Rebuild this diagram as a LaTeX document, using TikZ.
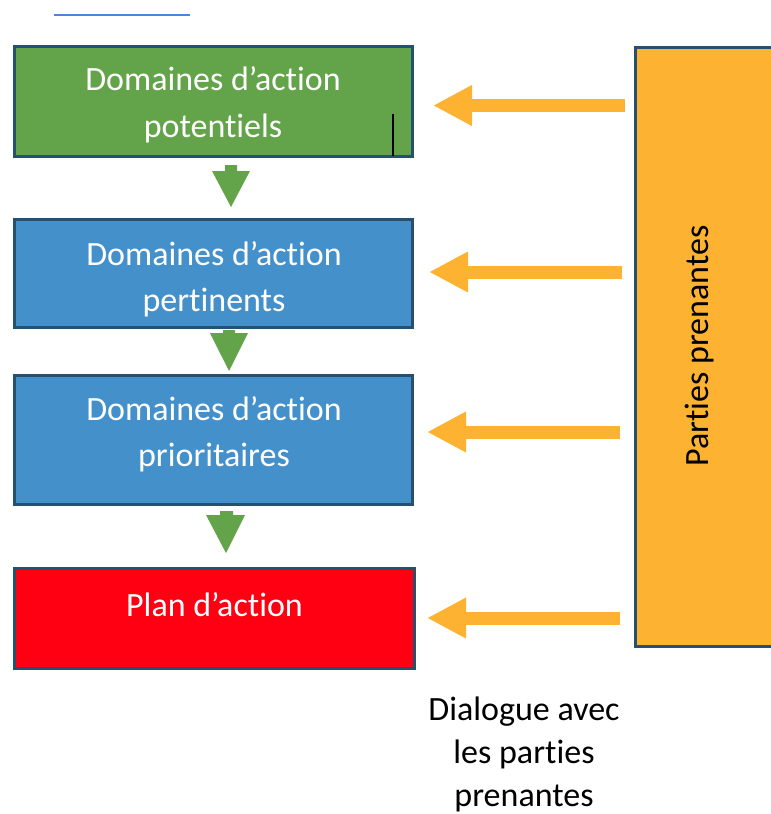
\documentclass[tikz,border=0pt]{standalone}
\usepackage{fontspec}
\setmainfont{Carlito}[Ligatures={NoCommon}]
\usetikzlibrary{arrows.meta}
\definecolor{boxgreen}{HTML}{63A34A}
\definecolor{boxblue}{HTML}{4490CB}
\definecolor{boxred}{HTML}{FF0013}
\definecolor{navy}{HTML}{25506F}
\definecolor{orng}{HTML}{FDB331}
\definecolor{linkblue}{HTML}{4A86E0}
\tikzset{
  stagebox/.style={draw=navy, line width=3pt, rectangle, inner sep=0pt},
  wtext/.style={text=white, anchor=base, inner sep=0pt, font=\fontsize{34}{40}\selectfont},
  btext/.style={text=black, anchor=base, inner sep=0pt, font=\fontsize{34}{40}\selectfont},
  garrow/.style={fill=boxgreen, draw=none},
  oarrow/.style={draw=orng, line width=13pt, -{Triangle[length=39pt,width=38pt]}},
}
\begin{document}
\begin{tikzpicture}[x=1pt,y=-1pt]
\useasboundingbox (0,0) rectangle (771,814);
\clip (0,0) rectangle (771,814);
% top blue line
\coordinate (l1) at (54,15);
\coordinate (l2) at (190,15);
\draw[linkblue, line width=2.5pt] (l1) -- (l2);
% boxes
\node[stagebox, fill=boxgreen, minimum width=398pt, minimum height=110pt] (g) at (213,101) {};
\node[stagebox, fill=boxblue, minimum width=398pt, minimum height=108pt] (b1) at (213,273) {};
\node[stagebox, fill=boxblue, minimum width=398pt, minimum height=129pt] (b2) at (213,439.5) {};
\node[stagebox, fill=boxred, minimum width=400pt, minimum height=100pt] (r) at (214,618) {};
\node[stagebox, fill=orng, minimum width=164pt, minimum height=599pt] (o) at (717,346.5) {};
% texts
\node[wtext] (g1) at (213,90) {Domaines d’action};
\node[wtext] (g2) at (213,137) {potentiels};
\node[wtext] (b11) at (214,265) {Domaines d’action};
\node[wtext] (b12) at (214,311) {pertinents};
\node[wtext] (b21) at (214,420) {Domaines d’action};
\node[wtext] (b22) at (214,466) {prioritaires};
\node[wtext] (r1) at (214.5,616) {Plan d’action};
\node[btext, rotate=90] (ot) at (708,346) {Parties prenantes};
\node[btext] (d1) at (524,720) {Dialogue avec};
\node[btext] (d2) at (524,763) {les parties};
\node[btext] (d3) at (524,806) {prenantes};
% cursor mark in green box
\coordinate (c1) at (393,114);
\coordinate (c2) at (393,156);
\draw[black, line width=1.2pt] (c1) -- (c2);
% green down arrows
\fill[garrow] (225,165) -- (237,165) -- (237,171) -- (250,171) -- (231,207) -- (212,171) -- (225,171) -- cycle;
\fill[garrow] (223,330) -- (235,330) -- (235,333) -- (248,333) -- (229,371) -- (210,333) -- (223,333) -- cycle;
\fill[garrow] (220,511) -- (233,511) -- (233,515) -- (245,515) -- (226,553) -- (206,515) -- (220,515) -- cycle;
% orange arrows
\coordinate (s1) at (625,105.5); \coordinate (e1) at (433,105.5);
\coordinate (s2) at (622,272); \coordinate (e2) at (429,272);
\coordinate (s3) at (620,432); \coordinate (e3) at (427,432);
\coordinate (s4) at (620,618); \coordinate (e4) at (427,618);
\draw[oarrow] (s1) -- (e1);
\draw[oarrow] (s2) -- (e2);
\draw[oarrow] (s3) -- (e3);
\draw[oarrow] (s4) -- (e4);
\end{tikzpicture}
\end{document}
